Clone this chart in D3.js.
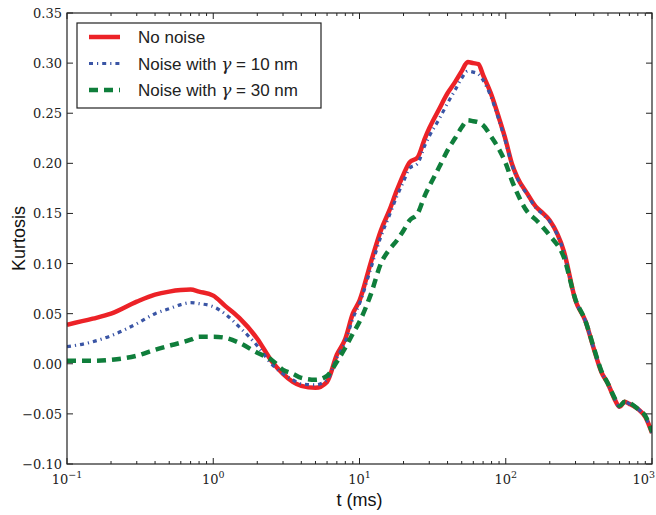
<!DOCTYPE html>
<html>
<head>
<meta charset="utf-8">
<title>Kurtosis vs t</title>
<script src="https://d3js.org/d3.v7.min.js"></script>
<style>
  body { margin: 0; background: #fff; }
  .tick-label { font-family: "DejaVu Serif", "Liberation Serif", serif; font-size: 13px; fill: #222; }
  .axis-title { font-family: "Liberation Sans", Arial, sans-serif; font-size: 18px; fill: #111; }
  .legend-text { font-family: "Liberation Sans", Arial, sans-serif; font-size: 17px; fill: #222; }
</style>
</head>
<body>
<div id="chart"></div>
<script>
// time in ms (log axis)
const times = [0.1, 0.15, 0.2, 0.3, 0.4, 0.5, 0.6, 0.7, 0.8, 1.0, 1.2, 1.5, 2, 2.5, 3, 3.5, 4, 5, 6, 7, 8, 9,
  10, 12, 14, 16, 18, 20, 22, 25, 28, 30, 35, 40, 45, 50, 55, 60, 65, 70, 80, 90,
  100, 110, 120, 140, 160, 180, 200, 250, 300, 350, 400, 450, 500, 550, 600, 650, 700, 800, 900, 1000];

const noNoise = [0.039, 0.045, 0.050, 0.062, 0.069, 0.072, 0.0735, 0.074, 0.072, 0.068, 0.058, 0.046, 0.025, 0.003, -0.010, -0.018, -0.022, -0.024, -0.018, 0.009, 0.025, 0.050,
  0.063, 0.102, 0.133, 0.153, 0.173, 0.189, 0.201, 0.206, 0.225, 0.235, 0.254, 0.270, 0.281, 0.292, 0.301, 0.300, 0.299, 0.288, 0.268, 0.245,
  0.223, 0.200, 0.186, 0.170, 0.157, 0.150, 0.143, 0.112, 0.063, 0.043, 0.015, -0.008, -0.020, -0.034, -0.043, -0.038, -0.040, -0.045, -0.053, -0.069];

const noise10 = [0.017, 0.022, 0.028, 0.040, 0.050, 0.055, 0.059, 0.061, 0.060, 0.057, 0.050, 0.037, 0.018, 0.000, -0.010, -0.016, -0.020, -0.021, -0.016, 0.006, 0.022, 0.045,
  0.060, 0.096, 0.127, 0.148, 0.167, 0.182, 0.195, 0.200, 0.218, 0.227, 0.244, 0.260, 0.273, 0.285, 0.292, 0.291, 0.289, 0.283, 0.265, 0.243,
  0.221, 0.199, 0.185, 0.169, 0.156, 0.149, 0.142, 0.111, 0.063, 0.043, 0.015, -0.008, -0.020, -0.034, -0.043, -0.038, -0.040, -0.045, -0.053, -0.069];

const noise30 = [0.003, 0.003, 0.004, 0.008, 0.014, 0.018, 0.021, 0.024, 0.027, 0.027, 0.026, 0.021, 0.011, 0.004, -0.006, -0.010, -0.014, -0.016, -0.012, 0.002, 0.016, 0.030,
  0.042, 0.070, 0.100, 0.114, 0.123, 0.133, 0.143, 0.150, 0.168, 0.177, 0.196, 0.213, 0.225, 0.236, 0.243, 0.242, 0.241, 0.238, 0.226, 0.214,
  0.200, 0.183, 0.170, 0.152, 0.144, 0.136, 0.128, 0.106, 0.064, 0.043, 0.016, -0.007, -0.020, -0.033, -0.042, -0.038, -0.039, -0.045, -0.052, -0.068];

const seriesNames = ["No noise", "Noise with \u03b3 = 10 nm", "Noise with \u03b3 = 30 nm"];
const yTicks = [-0.10, -0.05, 0.00, 0.05, 0.10, 0.15, 0.20, 0.25, 0.30, 0.35];
const xTicks = [0.1, 1, 10, 100, 1000];
const xExps = ["\u22121", "0", "1", "2", "3"];

const width = 656, height = 515;
const margin = { top: 13, right: 4, bottom: 51, left: 67 };

const svg = d3.select("#chart").append("svg")
  .attr("width", width)
  .attr("height", height);

const x = d3.scaleLog()
  .domain([0.1, 1000])
  .range([margin.left, width - margin.right]);

const y = d3.scaleLinear()
  .domain([-0.10, 0.35])
  .range([height - margin.bottom, margin.top]);

const x0 = margin.left, x1 = width - margin.right;
const y0 = height - margin.bottom, y1 = margin.top;

const line = d3.line()
  .x((d, i) => x(times[i]))
  .y(d => y(d))
  .curve(d3.curveMonotoneX);

svg.append("clipPath").attr("id", "plot-clip")
  .append("rect").attr("x", x0).attr("y", y1).attr("width", x1 - x0).attr("height", y0 - y1);

const plot = svg.append("g").attr("clip-path", "url(#plot-clip)");

// lines
plot.append("path").datum(noNoise)
  .attr("fill", "none").attr("stroke", "#ec2227").attr("stroke-width", 4.5)
  .attr("stroke-linejoin", "round")
  .attr("d", line);

plot.append("path").datum(noise10)
  .attr("fill", "none").attr("stroke", "#3a55a5").attr("stroke-width", 3.2)
  .attr("stroke-dasharray", "4,4,1.2,4")
  .attr("d", line);

plot.append("path").datum(noise30)
  .attr("fill", "none").attr("stroke", "#0f7e3b").attr("stroke-width", 4.5)
  .attr("stroke-dasharray", "9,6")
  .attr("d", line);

// frame
svg.append("rect")
  .attr("x", x0).attr("y", y1)
  .attr("width", x1 - x0).attr("height", y0 - y1)
  .attr("fill", "none").attr("stroke", "#222").attr("stroke-width", 1.2);

// x ticks (major + minor, inward on top and bottom)
const minor = [];
for (let e = -1; e < 3; e++) {
  for (let m = 2; m <= 9; m++) minor.push(m * Math.pow(10, e));
}
const tickG = svg.append("g").attr("stroke", "#222").attr("stroke-width", 1);
xTicks.forEach(t => {
  tickG.append("line").attr("x1", x(t)).attr("x2", x(t)).attr("y1", y0).attr("y2", y0 - 6);
  tickG.append("line").attr("x1", x(t)).attr("x2", x(t)).attr("y1", y1).attr("y2", y1 + 6);
});
minor.forEach(t => {
  tickG.append("line").attr("x1", x(t)).attr("x2", x(t)).attr("y1", y0).attr("y2", y0 - 3);
  tickG.append("line").attr("x1", x(t)).attr("x2", x(t)).attr("y1", y1).attr("y2", y1 + 3);
});
yTicks.forEach(v => {
  tickG.append("line").attr("x1", x0).attr("x2", x0 + 6).attr("y1", y(v)).attr("y2", y(v));
  tickG.append("line").attr("x1", x1).attr("x2", x1 - 6).attr("y1", y(v)).attr("y2", y(v));
});

// y tick labels
yTicks.forEach(v => {
  svg.append("text").attr("class", "tick-label")
    .attr("x", x0 - 5).attr("y", y(v) + 5)
    .attr("text-anchor", "end")
    .text(d3.format(".2f")(v).replace("-", "\u2212"));
});

// x tick labels 10^n (last one kept inside the page)
xTicks.forEach((t, i) => {
  const last = i === xTicks.length - 1;
  const tx = svg.append("text").attr("class", "tick-label")
    .attr("x", last ? width - 1 : x(t)).attr("y", y0 + 20)
    .attr("text-anchor", last ? "end" : "middle");
  tx.append("tspan").text("10");
  tx.append("tspan").attr("dy", -6).style("font-size", "9.5px").text(xExps[i]);
});

// axis titles
svg.append("text").attr("class", "axis-title")
  .attr("x", (x0 + x1) / 2).attr("y", 506)
  .attr("text-anchor", "middle")
  .text("t (ms)");

svg.append("text").attr("class", "axis-title")
  .attr("transform", `translate(25,${(y0 + y1) / 2}) rotate(-90)`)
  .attr("text-anchor", "middle")
  .text("Kurtosis");

// legend
const legend = svg.append("g");
legend.append("rect")
  .attr("x", 77).attr("y", 23).attr("width", 244).attr("height", 85)
  .attr("fill", "#fff").attr("stroke", "#222").attr("stroke-width", 1.2);

const legendStyles = [
  { color: "#ec2227", width: 4.5, dash: null },
  { color: "#3a55a5", width: 3.2, dash: "4,4,1.2,4" },
  { color: "#0f7e3b", width: 4.5, dash: "9,6" }
];
seriesNames.forEach((name, i) => {
  const ly = 37 + i * 26.5;
  const st = legendStyles[i];
  const l = legend.append("line")
    .attr("x1", 89).attr("x2", 120).attr("y1", ly).attr("y2", ly)
    .attr("stroke", st.color).attr("stroke-width", st.width);
  if (st.dash) l.attr("stroke-dasharray", st.dash);
  const t = legend.append("text").attr("class", "legend-text")
    .attr("x", 138).attr("y", ly + 6);
  if (i === 0) {
    t.text(name);
  } else {
    const parts = name.split("\u03b3");
    t.append("tspan").text(parts[0]);
    t.append("tspan").style("font-family", "'DejaVu Serif', serif").style("font-style", "italic").text("\u03b3");
    t.append("tspan").text(parts[1]);
  }
});
</script>
</body>
</html>
